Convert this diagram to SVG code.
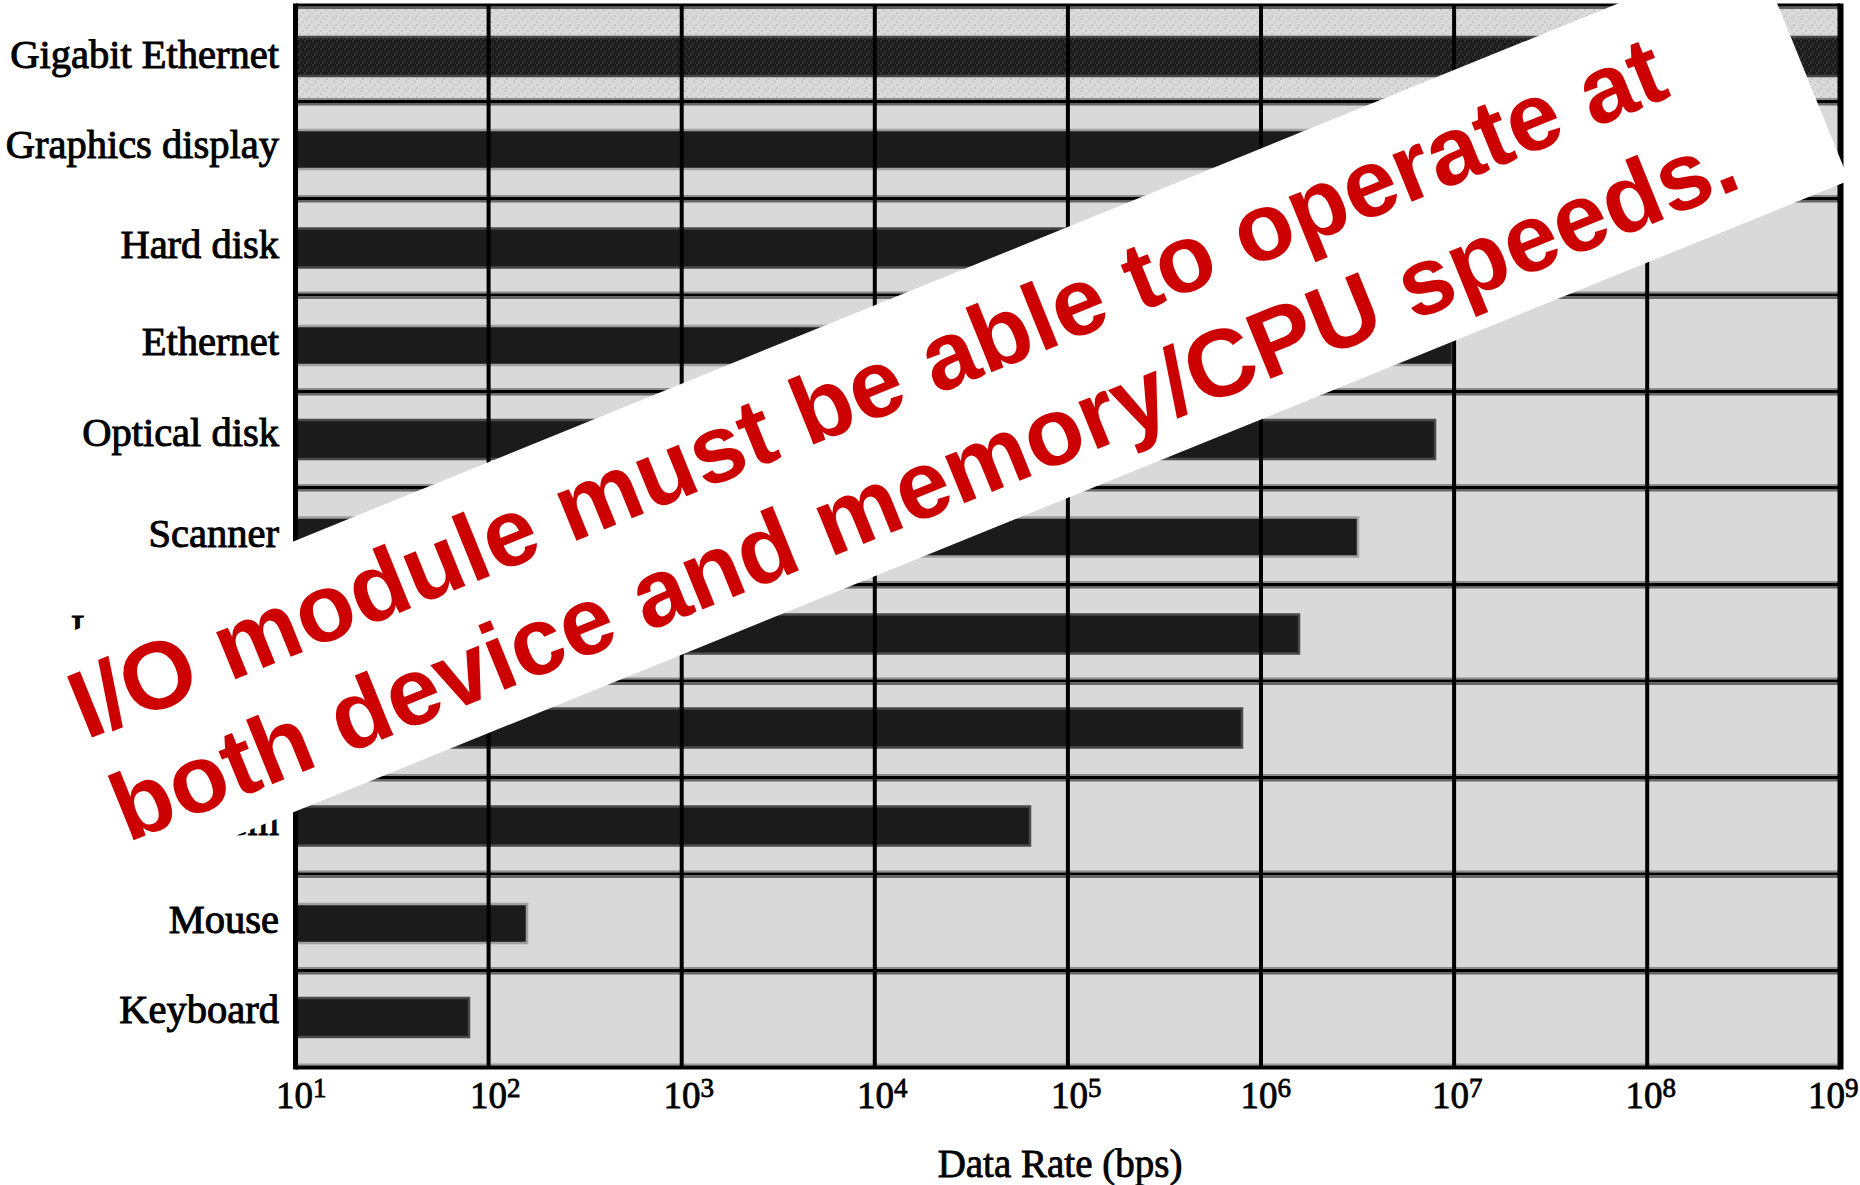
<svg xmlns="http://www.w3.org/2000/svg" width="1860" height="1185" viewBox="0 0 1860 1185">
  <style>
    .lbl { font-family: "Liberation Serif", "Times New Roman", serif; font-size: 40.5px; fill: #000; stroke: #000; stroke-width: 1; text-anchor: end; }
    .tick { font-family: "Liberation Serif", "Times New Roman", serif; font-size: 37px; fill: #000; stroke: #000; stroke-width: 0.8; }
    .tick tspan { font-size: 27px; }
    .axis { font-family: "Liberation Serif", "Times New Roman", serif; font-size: 39px; fill: #000; stroke: #000; stroke-width: 0.8; text-anchor: middle; }
    .bar { fill: #1b1b1b; stroke-width: 2.5; }
    .edge-d { stroke: #4a4a4a; }
    .edge-l { stroke: #a0a0a0; }
    .vline { stroke: #000; stroke-width: 4; }
    .note { font-family: "Liberation Sans", Arial, sans-serif; font-weight: bold; font-size: 96px; fill: #cc0000; }
  </style>
  <defs>
    <!-- stippled halftone used by the top row -->
    <pattern id="stipLight" width="9" height="9" patternUnits="userSpaceOnUse">
      <rect width="9" height="9" fill="#dadada"/>
      <rect x="0" y="0" width="2" height="2" fill="#c4c4c4"/>
      <rect x="5" y="3" width="2" height="2" fill="#c8c8c8"/>
      <rect x="2" y="6" width="2" height="2" fill="#c4c4c4"/>
      <rect x="7" y="7" width="1.5" height="1.5" fill="#cacaca"/>
    </pattern>
    <pattern id="stipDark" width="8" height="8" patternUnits="userSpaceOnUse">
      <rect width="8" height="8" fill="#1c1c1c"/>
      <rect x="0" y="0" width="2" height="3" fill="#303030"/>
      <rect x="4" y="2" width="2" height="3" fill="#2c2c2c"/>
      <rect x="2" y="5" width="2" height="3" fill="#333"/>
      <rect x="6" y="6" width="2" height="2" fill="#2a2a2a"/>
    </pattern>
    <!-- row separator: light rim, black rule, dark rim -->
    <g id="sep">
      <rect x="296" y="-3.5" width="1544" height="2" fill="#8c8c8c"/>
      <rect x="296" y="-1.5" width="1544" height="3" fill="#000"/>
      <rect x="296" y="1.5" width="1544" height="2.5" fill="#666"/>
    </g>
  </defs>

  <rect width="1860" height="1185" fill="#fff"/>

  <!-- plot area -->
  <g id="plot-area">
    <rect x="296" y="5" width="1544" height="1062" fill="#d9d9d9"/>
    <rect x="296" y="9" width="1544" height="92" fill="url(#stipLight)"/>
    <rect x="296" y="6.5" width="1544" height="2.5" fill="#606060"/>
    <rect x="296" y="3.5" width="1544" height="3" fill="#000"/>
    <rect x="296" y="1063.5" width="1544" height="2" fill="#999"/>
    <rect x="296" y="1065.5" width="1544" height="4" fill="#000"/>
    <use href="#sep" y="101.5"/>
    <use href="#sep" y="198.5"/>
    <use href="#sep" y="295"/>
    <use href="#sep" y="391.5"/>
    <use href="#sep" y="487.5"/>
    <use href="#sep" y="584.5"/>
    <use href="#sep" y="681"/>
    <use href="#sep" y="777.5"/>
    <use href="#sep" y="874"/>
    <use href="#sep" y="970.5"/>
  </g>

  <!-- devices: label + data-rate bar -->
  <g id="row-gigabit-ethernet">
    <rect class="bar" x="296" y="37" width="1543" height="39" style="fill:url(#stipDark)" stroke="#444"/>
    <text class="lbl" x="279" y="68">Gigabit Ethernet</text>
  </g>
  <g id="row-graphics-display">
    <rect class="bar edge-l" x="296" y="130" width="1443" height="39"/>
    <text class="lbl" x="279" y="158">Graphics display</text>
  </g>
  <g id="row-hard-disk">
    <rect class="bar edge-d" x="296" y="228.5" width="1303" height="39"/>
    <text class="lbl" x="279" y="258">Hard disk</text>
  </g>
  <g id="row-ethernet">
    <rect class="bar edge-l" x="296" y="326" width="1157" height="39"/>
    <text class="lbl" x="279" y="355">Ethernet</text>
  </g>
  <g id="row-optical-disk">
    <rect class="bar edge-d" x="296" y="420" width="1139" height="39"/>
    <text class="lbl" x="279" y="446">Optical disk</text>
  </g>
  <g id="row-scanner">
    <rect class="bar edge-l" x="296" y="517.5" width="1062" height="39"/>
    <text class="lbl" x="279" y="546.5">Scanner</text>
  </g>
  <g id="row-laser-printer">
    <rect class="bar edge-d" x="296" y="614.5" width="1003" height="39"/>
    <text class="lbl" x="279" y="642">Laser printer</text>
  </g>
  <g id="row-floppy-disk">
    <rect class="bar edge-d" x="296" y="708.5" width="946" height="39"/>
    <text class="lbl" x="279" y="739">Floppy disk</text>
  </g>
  <g id="row-modem">
    <rect class="bar edge-d" x="296" y="806.5" width="734" height="39"/>
    <text class="lbl" x="279" y="835">Modem</text>
  </g>
  <g id="row-mouse">
    <rect class="bar edge-l" x="296" y="904" width="231" height="39"/>
    <text class="lbl" x="279" y="933">Mouse</text>
  </g>
  <g id="row-keyboard">
    <rect class="bar edge-d" x="296" y="998" width="173" height="39"/>
    <text class="lbl" x="279" y="1023">Keyboard</text>
  </g>

  <!-- decade grid and frame -->
  <g id="grid">
    <line class="vline" x1="488.6" y1="4" x2="488.6" y2="1069"/>
    <line class="vline" x1="681.7" y1="4" x2="681.7" y2="1069"/>
    <line class="vline" x1="874.8" y1="4" x2="874.8" y2="1069"/>
    <line class="vline" x1="1067.9" y1="4" x2="1067.9" y2="1069"/>
    <line class="vline" x1="1261" y1="4" x2="1261" y2="1069"/>
    <line class="vline" x1="1454.1" y1="4" x2="1454.1" y2="1069"/>
    <line class="vline" x1="1647.2" y1="4" x2="1647.2" y2="1069"/>
    <line x1="295.5" y1="3.5" x2="295.5" y2="1069.5" stroke="#000" stroke-width="5"/>
    <line x1="1840.5" y1="3.5" x2="1840.5" y2="1069.5" stroke="#000" stroke-width="6"/>
  </g>

  <!-- x axis -->
  <g id="x-axis">
    <text class="tick" x="276" y="1108">10<tspan dy="-11">1</tspan></text>
    <text class="tick" x="470" y="1108">10<tspan dy="-11">2</tspan></text>
    <text class="tick" x="663.5" y="1108">10<tspan dy="-11">3</tspan></text>
    <text class="tick" x="857" y="1108">10<tspan dy="-11">4</tspan></text>
    <text class="tick" x="1051" y="1108">10<tspan dy="-11">5</tspan></text>
    <text class="tick" x="1240.5" y="1108">10<tspan dy="-11">6</tspan></text>
    <text class="tick" x="1432" y="1108">10<tspan dy="-11">7</tspan></text>
    <text class="tick" x="1625.5" y="1108">10<tspan dy="-11">8</tspan></text>
    <text class="tick" x="1808" y="1108">10<tspan dy="-11">9</tspan></text>
    <text class="axis" x="1060" y="1177">Data Rate (bps)</text>
  </g>

  <!-- slanted white banner with the red remark -->
  <g id="banner" transform="translate(86 740) rotate(-22.1)">
    <rect x="-400" y="-106" width="2244" height="251" fill="#fff"/>
    <text class="note" x="0" y="0">I/O module must be able to operate at</text>
    <text class="note" x="0" y="111">both device and memory/CPU speeds.</text>
  </g>
</svg>
